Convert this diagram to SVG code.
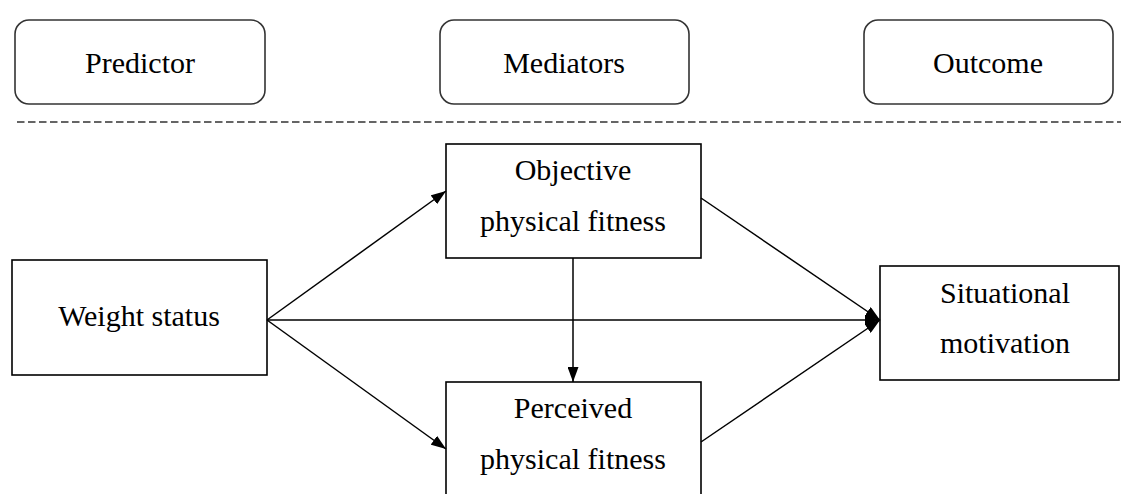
<svg xmlns="http://www.w3.org/2000/svg" width="1121" height="494" viewBox="0 0 1121 494">
<style>
.hdr{fill:#fff;stroke:#333;stroke-width:1.6}
.box{fill:#fff;stroke:#000;stroke-width:1.6}
text{font-family:"Liberation Serif","Times New Roman",serif;font-size:30px;fill:#000;text-anchor:middle}
.con{stroke:#000;stroke-width:1.5;fill:none}
</style>
<defs>
<marker id="ah" markerWidth="15" markerHeight="11" refX="15" refY="5.5" orient="auto" markerUnits="userSpaceOnUse">
<path d="M0,0 L15,5.5 L0,11 Z" fill="#000"/>
</marker>
</defs>
<rect width="1121" height="494" fill="#fff"/>
<g id="predictor"><rect class="hdr" x="15" y="20" width="250" height="84" rx="14"/><text x="140" y="73">Predictor</text></g>
<g id="mediators"><rect class="hdr" x="440" y="20" width="249" height="84" rx="14"/><text x="564" y="73">Mediators</text></g>
<g id="outcome"><rect class="hdr" x="864" y="20" width="249" height="84" rx="14"/><text x="988" y="73">Outcome</text></g>
<line x1="17" y1="122" x2="1121" y2="122" stroke="#333" stroke-width="1.5" stroke-dasharray="7.5,3.5"/>
<g id="weight"><rect class="box" x="12" y="260" width="255" height="115"/><text x="139" y="326">Weight status</text></g>
<g id="objective"><rect class="box" x="446" y="144" width="255" height="114"/><text x="573" y="180">Objective</text><text x="573" y="231">physical fitness</text></g>
<g id="perceived"><rect class="box" x="446" y="382" width="255" height="120"/><text x="573" y="418">Perceived</text><text x="573" y="469">physical fitness</text></g>
<g id="situational"><rect class="box" x="880" y="266" width="239" height="114"/><text x="1005" y="303">Situational</text><text x="1005" y="353">motivation</text></g>
<g id="connectors">
<line class="con" x1="267" y1="320" x2="446" y2="191" marker-end="url(#ah)"/>
<line class="con" x1="267" y1="320" x2="446" y2="449" marker-end="url(#ah)"/>
<line class="con" x1="267" y1="320" x2="880" y2="320" marker-end="url(#ah)"/>
<line class="con" x1="701" y1="198" x2="880" y2="320" marker-end="url(#ah)"/>
<line class="con" x1="701" y1="442" x2="880" y2="320" marker-end="url(#ah)"/>
<line class="con" x1="573" y1="258" x2="573" y2="382" marker-end="url(#ah)"/>
</g>
</svg>
